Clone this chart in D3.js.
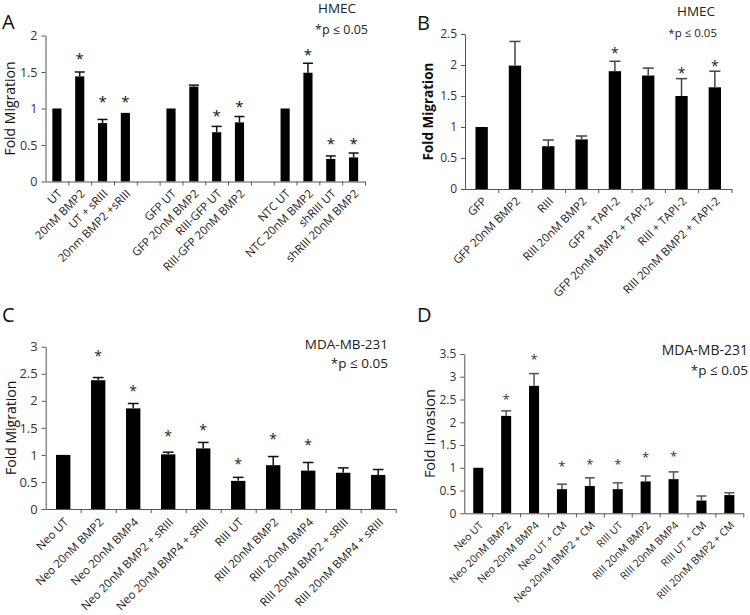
<!DOCTYPE html>
<html>
<head>
<meta charset="utf-8">
<script src="https://cdn.jsdelivr.net/npm/d3@7"></script>
<style>
  html, body { margin: 0; padding: 0; background: #fff; }
  svg { display: block; font-family: "Open Sans", "Noto Sans", sans-serif; }
</style>
</head>
<body>
<svg id="chart" width="750" height="615"></svg>
<script>
// ---------- Panel A (HMEC) ----------
const categoriesA = ["UT", "20nM BMP2", "UT + sRIII", "20nm BMP2 +sRIII", "",
  "GFP UT", "GFP 20nM BMP2", "RIII-GFP UT", "RIII-GFP 20nM BMP2", "",
  "NTC UT", "NTC 20nM BMP2", "shRIII UT", "shRIII 20nM BMP2"];
const valuesA = [1, 1.44, 0.80, 0.94, null, 1, 1.30, 0.675, 0.81, null, 1, 1.49, 0.31, 0.33];
const errorsA = [0, 0.06, 0.05, 0, null, 0, 0.02, 0.08, 0.08, null, 0, 0.13, 0.04, 0.06];
const starsA  = [null, 1.72, 1.14, 1.14, null, null, null, 0.94, 1.07, null, null, 1.78, 0.56, 0.56];
const ticksA  = [0, 0.5, 1, 1.5, 2];

// ---------- Panel B (HMEC, TAPI-2) ----------
const categoriesB = ["GFP", "GFP 20nM BMP2", "RIII", "RIII 20nM BMP2", "GFP + TAPI-2",
  "GFP 20nM BMP2 + TAPI-2", "RIII + TAPI-2", "RIII 20nM BMP2 + TAPI-2"];
const valuesB = [1, 1.99, 0.69, 0.80, 1.90, 1.83, 1.50, 1.64];
const errorsB = [0, 0.39, 0.10, 0.055, 0.16, 0.12, 0.28, 0.26];
const starsB  = [null, null, null, null, 2.24, null, 1.91, 2.03];
const ticksB  = [0, 0.5, 1, 1.5, 2, 2.5];

// ---------- Panel C (MDA-MB-231 migration) ----------
const categoriesC = ["Neo UT", "Neo 20nM BMP2", "Neo 20nM BMP4", "Neo 20nM BMP2 + sRIII",
  "Neo 20nM BMP4 + sRIII", "RIII UT", "RIII 20nM BMP2", "RIII 20nM BMP4",
  "RIII 20nM BMP2 + sRIII", "RIII 20nM BMP4 + sRIII"];
const valuesC = [1, 2.38, 1.86, 1.01, 1.12, 0.52, 0.81, 0.71, 0.67, 0.63];
const errorsC = [0, 0.05, 0.09, 0.04, 0.11, 0.065, 0.16, 0.15, 0.09, 0.10];
const starsC  = [null, 2.87, 2.24, 1.40, 1.51, 0.89, 1.34, 1.23, null, null];
const ticksC  = [0, 0.5, 1, 1.5, 2, 2.5, 3];

// ---------- Panel D (MDA-MB-231 invasion) ----------
const categoriesD = ["Neo UT", "Neo 20nM BMP2", "Neo 20nM BMP4", "Neo UT + CM",
  "Neo 20nM BMP2 + CM", "RIII UT", "RIII 20nM BMP2", "RIII 20nM BMP4",
  "RIII UT + CM", "RIII 20nM BMP2 + CM"];
const valuesD = [1, 2.14, 2.80, 0.53, 0.60, 0.53, 0.70, 0.75, 0.28, 0.40];
const errorsD = [0, 0.11, 0.27, 0.11, 0.18, 0.14, 0.12, 0.16, 0.10, 0.05];
const starsD  = [null, 2.55, 3.44, 1.08, 1.12, 1.13, 1.28, 1.30, null, null];
const ticksD  = [0, 0.5, 1, 1.5, 2, 2.5, 3, 3.5];

const svg = d3.select("#chart");

svg.append("defs").append("clipPath").attr("id", "clipB")
  .append("rect").attr("x", 375).attr("y", 0).attr("width", 375).attr("height", 299);

function drawPanel(p) {
  const g = svg.append("g");
  const n = p.categories.length;
  const y = d3.scaleLinear().domain([0, p.max]).range([p.yZero, p.yTop]);
  const x = d3.scaleBand().domain(d3.range(n)).range([p.x0, p.x1])
    .paddingInner(p.pad).paddingOuter(p.pad / 2);
  const slots = d3.scaleLinear().domain([0, n]).range([p.x0, p.x1]);

  // bars
  const idx = d3.range(n).filter(i => p.values[i] != null);
  g.selectAll("rect.bar").data(idx).join("rect")
    .attr("x", i => x(i)).attr("width", x.bandwidth())
    .attr("y", i => y(p.values[i])).attr("height", i => y(0) - y(p.values[i]))
    .attr("fill", "#000");

  // error bars (upper half)
  const eb = idx.filter(i => p.errors[i] > 0);
  const cw = x.bandwidth() * p.cap / 2;
  g.selectAll("line.err").data(eb).join("line")
    .attr("x1", i => x(i) + x.bandwidth() / 2).attr("x2", i => x(i) + x.bandwidth() / 2)
    .attr("y1", i => y(p.values[i])).attr("y2", i => y(p.values[i] + p.errors[i]))
    .attr("stroke", p.errColor).attr("stroke-width", 1.5);
  g.selectAll("line.cap").data(eb).join("line")
    .attr("x1", i => x(i) + x.bandwidth() / 2 - cw).attr("x2", i => x(i) + x.bandwidth() / 2 + cw)
    .attr("y1", i => y(p.values[i] + p.errors[i])).attr("y2", i => y(p.values[i] + p.errors[i]))
    .attr("stroke", p.errColor).attr("stroke-width", 1.5);

  // stars
  const st = d3.range(n).filter(i => p.stars[i] != null);
  g.selectAll("text.star").data(st).join("text")
    .attr("x", i => x(i) + x.bandwidth() / 2)
    .attr("y", i => y(p.stars[i]) + p.starSize * 0.55)
    .attr("text-anchor", "middle").attr("font-size", p.starSize)
    .attr("fill", p.starColor).text("*");

  // y axis
  const ya = g.append("g").attr("transform", `translate(${p.x0},0)`)
    .call(d3.axisLeft(y).tickValues(p.ticks).tickSize(4).tickSizeOuter(0).tickPadding(4)
      .tickFormat(d3.format("")));
  ya.selectAll("path,line").attr("stroke", "#555");
  ya.selectAll("text").attr("font-size", p.tickFont).attr("fill", "#333")
    .attr("font-family", "'Open Sans', sans-serif");

  // x axis (ticks at slot boundaries)
  const xa = g.append("g").attr("transform", `translate(0,${p.yZero})`)
    .call(d3.axisBottom(slots).tickValues(d3.range(1, n + 1)).tickSize(4).tickSizeOuter(0)
      .tickFormat(""));
  xa.selectAll("path,line").attr("stroke", "#555");

  // x labels
  const lg = g.append("g");
  if (p.clip) lg.attr("clip-path", `url(#${p.clip})`);
  lg.selectAll("text").data(d3.range(n)).join("text")
    .attr("transform", i => `translate(${x(i) + x.bandwidth() / 2 + p.lblDx},${p.yZero + p.lblDy}) rotate(-45)`)
    .attr("text-anchor", "end").attr("dy", "0.35em")
    .attr("font-size", p.lblFont).attr("fill", "#222")
    .text(i => p.categories[i]);

  // y title
  g.append("text")
    .attr("transform", `translate(${p.titleX},${(p.yZero + p.yTop) / 2}) rotate(-90)`)
    .attr("text-anchor", "middle").attr("font-size", p.titleFont)
    .attr("font-weight", p.titleWeight).attr("fill", "#111")
    .text(p.yTitle);

  // panel letter
  g.append("text").attr("x", p.letterX).attr("y", p.letterY)
    .attr("font-size", 20).attr("fill", "#111").text(p.letter);

  // annotations
  p.notes.forEach(nt => {
    g.append("text").attr("x", nt.x).attr("y", nt.y).attr("text-anchor", nt.anchor)
      .attr("font-size", nt.size).attr("fill", "#222").text(nt.text);
  });
}

drawPanel({
  categories: categoriesA, values: valuesA, errors: errorsA, stars: starsA, ticks: ticksA,
  max: 2, x0: 45.5, x1: 365, yZero: 181.5, yTop: 35.5, pad: 0.6, cap: 1.1,
  errColor: "#111", starColor: "#111", starSize: 15, tickFont: 12.5, lblFont: 11.5,
  lblDx: 3, lblDy: 10, yTitle: "Fold Migration", titleX: 15, titleFont: 14, titleWeight: "normal",
  letter: "A", letterX: 2, letterY: 29,
  notes: [{x: 318, y: 13, text: "HMEC", size: 13.5, anchor: "start"},
          {x: 368, y: 34, text: "*p ≤ 0.05", size: 12.5, anchor: "end"}]
});

drawPanel({
  categories: categoriesB, values: valuesB, errors: errorsB, stars: starsB, ticks: ticksB,
  max: 2.5, x0: 465, x1: 731.5, yZero: 189, yTop: 34, pad: 0.63, cap: 0.9,
  errColor: "#444", starColor: "#222", starSize: 14, tickFont: 12, lblFont: 11.5,
  lblDx: 3, lblDy: 10, yTitle: "Fold Migration", titleX: 433, titleFont: 13.5, titleWeight: "bold",
  letter: "B", letterX: 417, letterY: 30, clip: "clipB",
  notes: [{x: 677, y: 16, text: "HMEC", size: 13.5, anchor: "start"},
          {x: 717, y: 37, text: "*p ≤ 0.05", size: 11.5, anchor: "end"}]
});

drawPanel({
  categories: categoriesC, values: valuesC, errors: errorsC, stars: starsC, ticks: ticksC,
  max: 3, x0: 45.7, x1: 395.7, yZero: 509, yTop: 346.7, pad: 0.59, cap: 0.75,
  errColor: "#111", starColor: "#222", starSize: 14, tickFont: 13, lblFont: 11.5,
  lblDx: 3, lblDy: 11, yTitle: "Fold Migration", titleX: 16, titleFont: 14, titleWeight: "normal",
  letter: "C", letterX: 2, letterY: 322,
  notes: [{x: 388, y: 349, text: "MDA-MB-231", size: 13.5, anchor: "end"},
          {x: 388, y: 368, text: "*p ≤ 0.05", size: 13.5, anchor: "end"}]
});

drawPanel({
  categories: categoriesD, values: valuesD, errors: errorsD, stars: starsD, ticks: ticksD,
  max: 3.5, x0: 464.3, x1: 743.3, yZero: 513.3, yTop: 354, pad: 0.64, cap: 1.0,
  errColor: "#555", starColor: "#333", starSize: 13, tickFont: 12, lblFont: 10.5,
  lblDx: 3, lblDy: 10, yTitle: "Fold Invasion", titleX: 435, titleFont: 14.5, titleWeight: "normal",
  letter: "D", letterX: 417, letterY: 322,
  notes: [{x: 748, y: 355, text: "MDA-MB-231", size: 14, anchor: "end"},
          {x: 748, y: 374.5, text: "*p ≤ 0.05", size: 13.5, anchor: "end"}]
});
</script>
</body>
</html>
